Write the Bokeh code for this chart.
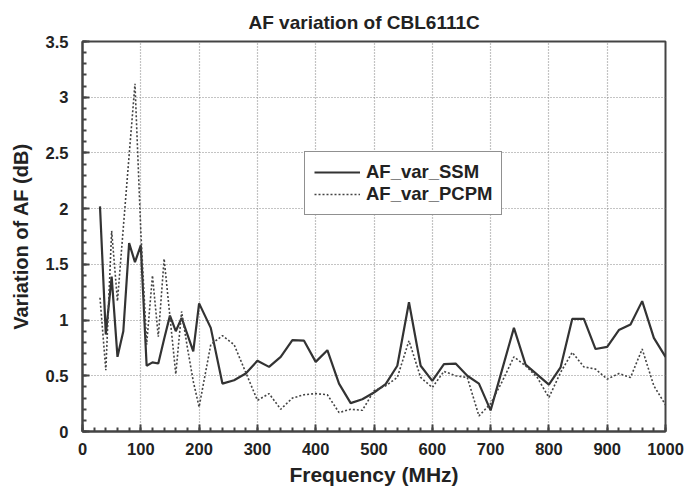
from bokeh.plotting import figure
from bokeh.models import Range1d, Legend, LegendItem, FixedTicker
from bokeh.embed import file_html
from bokeh.resources import INLINE

freq = [30, 40, 50, 60, 70, 80, 90, 100, 110, 120, 130, 140, 150, 160, 170, 180, 190, 200,
        220, 240, 260, 280, 300, 320, 340, 360, 380, 400, 420, 440, 460, 480, 500,
        520, 540, 560, 580, 600, 620, 640, 660, 680, 700, 720, 740, 760, 780, 800,
        820, 840, 860, 880, 900, 920, 940, 960, 980, 1000]

af_var_ssm = [2.02, 0.87, 1.39, 0.67, 0.90, 1.69, 1.52, 1.67, 0.59, 0.62, 0.61, 0.83, 1.04, 0.90, 1.02, 0.87, 0.72, 1.15,
              0.93, 0.43, 0.46, 0.52, 0.635, 0.58, 0.67, 0.82, 0.815, 0.625, 0.73, 0.43, 0.255, 0.29, 0.35,
              0.425, 0.59, 1.16, 0.59, 0.455, 0.605, 0.61, 0.50, 0.43, 0.19, 0.56, 0.93, 0.60, 0.51, 0.42,
              0.575, 1.01, 1.01, 0.74, 0.76, 0.91, 0.96, 1.17, 0.84, 0.67]

af_var_pcpm = [1.2, 0.55, 1.8, 1.17, 1.83, 2.48, 3.12, 1.8, 0.78, 1.40, 0.85, 1.55, 1.03, 0.515, 1.077, 0.75, 0.45, 0.22,
               0.78, 0.86, 0.78, 0.53, 0.28, 0.34, 0.20, 0.30, 0.33, 0.34, 0.33, 0.17, 0.20, 0.19, 0.365,
               0.41, 0.485, 0.815, 0.485, 0.395, 0.54, 0.50, 0.485, 0.14, 0.25, 0.45, 0.67, 0.59, 0.485, 0.305,
               0.53, 0.71, 0.58, 0.56, 0.47, 0.52, 0.485, 0.74, 0.41, 0.24]

x_ticks = [0, 100, 200, 300, 400, 500, 600, 700, 800, 900, 1000]
y_ticks = [0, 0.5, 1, 1.5, 2, 2.5, 3, 3.5]
y_tick_labels = ["0", "0.5", "1", "1.5", "2", "2.5", "3", "3.5"]

FONT = "Liberation Sans"

p = figure(width=690, height=488, output_backend="svg", toolbar_location=None,
           x_range=Range1d(0, 1000), y_range=Range1d(0, 3.5),
           min_border_left=82, min_border_right=25, min_border_top=41, min_border_bottom=57)

p.title.text = "AF variation of CBL6111C"
p.title.align = "left"
p.title.offset = 166
p.title.standoff = 18
p.title.text_font = FONT
p.title.text_font_size = "19px"
p.title.text_font_style = "bold"
p.title.text_color = "#222222"

p.outline_line_color = "#444444"
p.outline_line_width = 2
p.background_fill_color = "white"
p.border_fill_color = "white"

for ax in (p.xaxis[0], p.yaxis[0]):
    ax.axis_line_color = "#444444"
    ax.axis_line_width = 2
    ax.major_tick_in = 7
    ax.major_tick_out = 0
    ax.minor_tick_in = 4
    ax.minor_tick_out = 0
    ax.major_tick_line_color = "#444444"
    ax.major_tick_line_width = 2
    ax.minor_tick_line_color = "#444444"
    ax.minor_tick_line_width = 2
    ax.major_label_text_font = FONT
    ax.major_label_text_font_style = "bold"
    ax.major_label_text_font_size = "16.5px"
    ax.major_label_text_color = "#222222"
    ax.axis_label_text_font = FONT
    ax.axis_label_text_font_style = "bold"
    ax.axis_label_text_color = "#222222"

p.xaxis.axis_label_text_font_size = "21px"
p.yaxis.axis_label_text_font_size = "20px"
p.xaxis.ticker = FixedTicker(ticks=x_ticks, minor_ticks=list(range(0, 1001, 20)))
p.yaxis.ticker = FixedTicker(ticks=y_ticks, minor_ticks=[i / 10 for i in range(0, 36)])
p.yaxis.major_label_overrides = {t: l for t, l in zip(y_ticks, y_tick_labels)}
p.xaxis.axis_label = "Frequency (MHz)"
p.yaxis.axis_label = "Variation of AF (dB)"
p.xaxis.major_label_standoff = 11
p.xaxis.axis_label_standoff = 5
p.yaxis.major_label_standoff = 14
p.yaxis.axis_label_standoff = 11

for g in (p.xgrid[0], p.ygrid[0]):
    g.grid_line_color = "#888888"
    g.grid_line_dash = "1 2"
    g.grid_line_width = 1.2

r1 = p.line(freq, af_var_ssm, line_color="#333333", line_width=2.2)
r2 = p.line(freq, af_var_pcpm, line_color="#444444", line_width=1.6, line_dash="2 2")

legend = Legend(items=[LegendItem(label="AF_var_SSM", renderers=[r1]),
                       LegendItem(label="AF_var_PCPM", renderers=[r2])],
                location=(222, 216))
legend.label_text_font = FONT
legend.label_text_font_style = "bold"
legend.label_text_font_size = "18.5px"
legend.label_text_color = "#222222"
legend.glyph_width = 46
legend.glyph_height = 20
legend.label_height = 20
legend.label_standoff = 6
legend.padding = 9
legend.spacing = 0
legend.margin = 0
legend.border_line_color = "#222222"
legend.border_line_width = 1.5
legend.background_fill_color = "white"
legend.background_fill_alpha = 1.0
p.add_layout(legend, "center")

open("out.html", "w").write(file_html(p, INLINE))
